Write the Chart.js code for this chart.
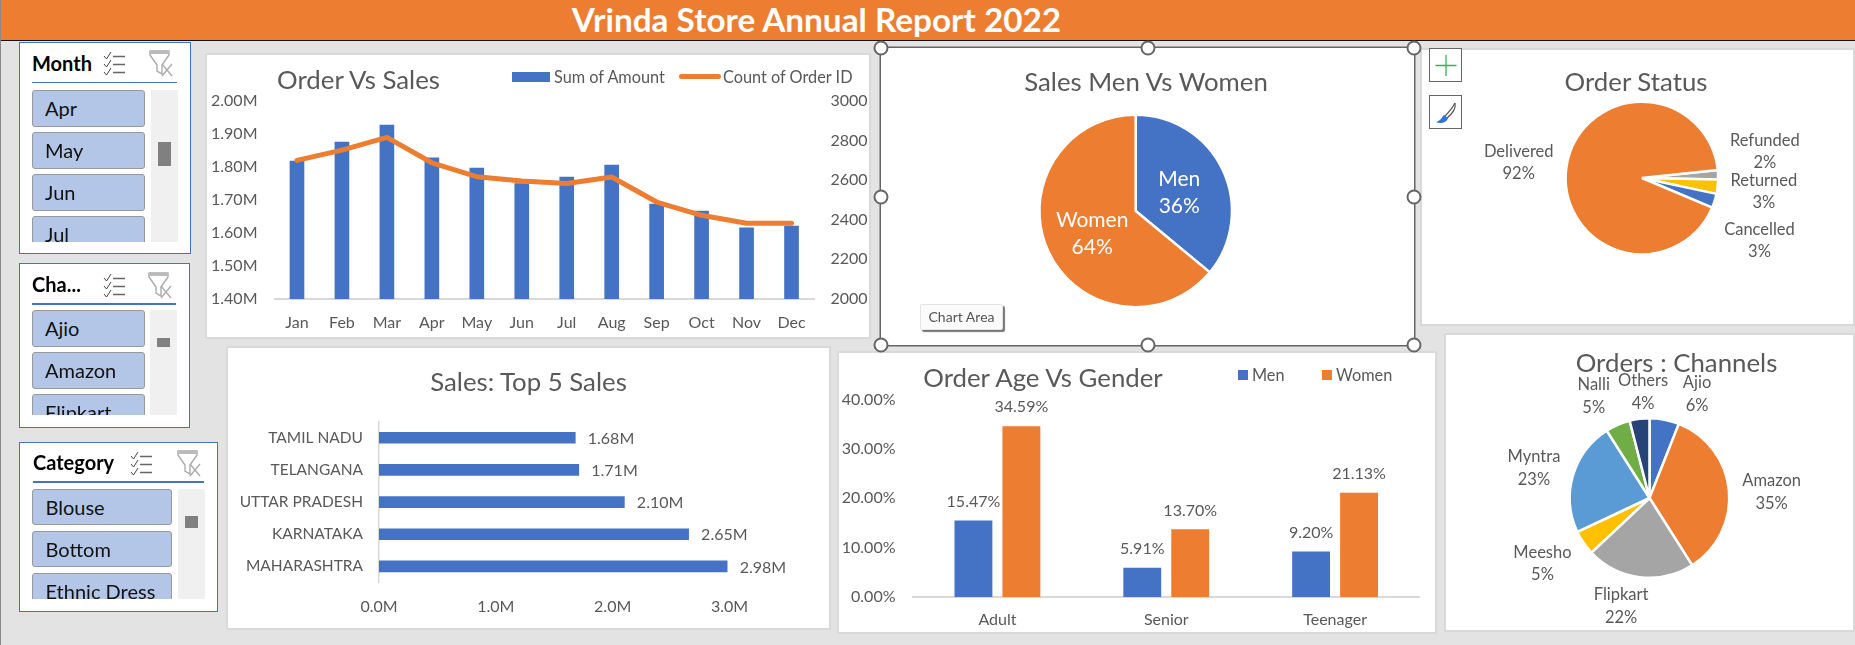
<!DOCTYPE html>
<html>
<head>
<meta charset="utf-8">
<title>Vrinda Store Annual Report 2022</title>
<script src="https://cdn.jsdelivr.net/npm/chart.js@4"></script>
<style>
html,body{margin:0;padding:0;width:1855px;height:645px;overflow:hidden;background:#e3e3e3;font-family:Lato,sans-serif}
.abs,.panel,.slicer,.chartTitle,.legendText{position:absolute}
#header{position:absolute;left:1px;top:0;width:1854px;height:40px;background:#ed7d31;border-bottom:1.7px solid #111;color:#fff;font-weight:700;font-size:33.3px;line-height:38px}
#header span{position:absolute;left:0;width:1631px;top:0;text-align:center}
#edge{position:absolute;left:0;top:0;width:1px;height:645px;background:#8a8a8a}
.panel{background:#fff;outline:2px solid #d9d9d9}
.panel canvas{position:absolute;left:0;top:0}
.chartTitle{color:#595959;font-size:25.8px;line-height:30px;white-space:nowrap;transform:translate(-50%,-55%)}
.legendText{color:#595959;font-size:16.3px;line-height:18px;white-space:nowrap;transform:translateY(-50%)}
.slicer{background:#fff;border:1.5px solid #4472c4;box-sizing:border-box}
.slicerTitle{position:absolute;font-weight:700;font-size:20px;line-height:24px;color:#000;white-space:nowrap}
.slicerRule{position:absolute;height:1.5px;background:#4472c4}
.slicerList{position:absolute;overflow:hidden}
.slicerBtn{position:absolute;left:0;box-sizing:border-box;background:#b4c6e7;border:1px solid #999;border-radius:3px;color:#111;font-size:20px;line-height:34px;padding-left:12.5px;white-space:nowrap}
.scrollTrack{position:absolute;background:#f0f0f0}
.scrollThumb{position:absolute;background:#808080}
.icon{position:absolute}
.handle{position:absolute;width:11px;height:11px;border:2px solid #666;border-radius:50%;background:#fff;transform:translate(-50%,-50%)}
.toolBtn{position:absolute;left:1428.5px;width:33.5px;height:34px;box-sizing:border-box;background:#fff;border:1px solid #666}
#tip{position:absolute;left:920px;top:304px;width:81px;height:24px;background:#fbfbfb;border:1px solid #e4e4e4;border-radius:2px;box-shadow:2px 2px 1px #777;color:#555;font-size:14px;line-height:24px;text-align:center}
</style>
</head>
<body>
<div id="edge"></div>
<div id="header"><span>Vrinda Store Annual Report 2022</span></div>

<div class="panel" style="left:206.5px;top:55px;width:662.5px;height:282px"><canvas id="salesChart" width="662" height="282"></canvas></div>
<div class="panel" style="left:227.5px;top:348px;width:601.5px;height:280px"><canvas id="topChart" width="601" height="280"></canvas></div>
<div class="panel" style="left:839px;top:353px;width:595.5px;height:279px"><canvas id="ageChart" width="595" height="279"></canvas></div>
<div class="panel" style="left:1421.5px;top:50px;width:431.5px;height:274px"><canvas id="statusChart" width="431" height="274"></canvas></div>
<div class="panel" style="left:1446px;top:335px;width:407px;height:295px"><canvas id="channelChart" width="407" height="295"></canvas></div>
<div class="panel" style="left:881px;top:48px;width:533px;height:297px;outline:none;box-shadow:0 0 0 1.5px #666"><canvas id="genderChart" width="533" height="297"></canvas></div>

<div class="chartTitle" style="left:358.5px;top:80px">Order Vs Sales</div>
<div class="chartTitle" style="left:528.5px;top:381.5px">Sales: Top 5 Sales</div>
<div class="chartTitle" style="left:1043px;top:377.5px">Order Age Vs Gender</div>
<div class="chartTitle" style="left:1146px;top:81.5px">Sales Men Vs Women</div>
<div class="chartTitle" style="left:1636px;top:82px">Order Status</div>
<div class="chartTitle" style="left:1676.5px;top:363px">Orders : Channels</div>

<div class="abs" style="left:512px;top:71.5px;width:38px;height:10.5px;background:#4472c4"></div>
<div class="legendText" style="left:554px;top:76.5px">Sum of Amount</div>
<div class="abs" style="left:679px;top:74px;width:42px;height:5px;border-radius:3px;background:#ed7d31"></div>
<div class="legendText" style="left:723px;top:76.5px">Count of Order ID</div>
<div class="abs" style="left:1238px;top:370px;width:10px;height:10px;background:#4472c4"></div>
<div class="legendText" style="left:1252px;top:375px">Men</div>
<div class="abs" style="left:1322px;top:370px;width:10px;height:10px;background:#ed7d31"></div>
<div class="legendText" style="left:1336px;top:375px">Women</div>

<div id="slicers"></div>
<div id="handles"></div>
<div class="toolBtn" style="top:47.5px"><svg width="32" height="32"><path d="M16 6V27M5.5 16.5H26.5" stroke="#3fae5a" stroke-width="1.3" fill="none"/></svg></div>
<div class="toolBtn" style="top:94.5px"><svg width="32" height="32"><path d="M25 7C23 11 19 16 15 20" stroke="#555" stroke-width="1.2" fill="none"/><path d="M25 7C26 12 22 18 17 22" stroke="#555" stroke-width="1.2" fill="none"/><path d="M14 19C12 20 12 24 6 26C10 28 17 27 18 22Z" fill="#2e75d6"/></svg></div>
<div id="tip">Chart Area</div>

<script>
// --- data ---
const months = ['Jan','Feb','Mar','Apr','May','Jun','Jul','Aug','Sep','Oct','Nov','Dec'];
const sumOfAmount = [1.817,1.875,1.926,1.827,1.796,1.749,1.769,1.805,1.687,1.666,1.615,1.621];
const countOfOrders = [2699,2751,2815,2687,2617,2595,2582,2615,2489,2422,2382,2382];

const states = ['TAMIL NADU','TELANGANA','UTTAR PRADESH','KARNATAKA','MAHARASHTRA'];
const stateSales = [1.68,1.71,2.10,2.65,2.98];

const ageGroups = ['Adult','Senior','Teenager'];
const menShare = [15.47,5.91,9.20];
const womenShare = [34.59,13.70,21.13];

const genders = ['Men','Women'];
const genderSales = [36,64];

const statuses = ['Refunded','Returned','Cancelled','Delivered'];
const statusShare = [2,3,3,92];

const channels = ['Ajio','Amazon','Flipkart','Meesho','Myntra','Nalli','Others'];
const channelShare = [6,35,22,5,23,5,4];

const blue = '#4472c4', orange = '#ed7d31', gray = '#a5a5a5', yellow = '#ffc000';
const textGray = '#595959', axisGray = '#d9d9d9';
const fontFamily = 'Lato, sans-serif';
const labelRing = 75; // distance from pie centre that label nudges start from

Chart.defaults.font.family = fontFamily;
Chart.defaults.font.size = 16;
Chart.defaults.color = textGray;
Chart.defaults.animation = false;
Chart.defaults.responsive = false;
Chart.defaults.plugins.legend.display = false;
Chart.defaults.plugins.tooltip.enabled = false;

// value labels next to the bars
const barLabels = {
    id: 'barLabels',
    afterDatasetsDraw(chart, args, opts) {
        if (!opts.format) return;
        const ctx = chart.ctx;
        ctx.save();
        ctx.font = '16px ' + fontFamily;
        ctx.fillStyle = textGray;
        chart.data.datasets.forEach((ds, i) => {
            chart.getDatasetMeta(i).data.forEach((bar, j) => {
                ctx.textAlign = opts.horizontal ? 'left' : 'center';
                ctx.textBaseline = 'middle';
                const text = opts.format(ds.data[j]);
                if (opts.horizontal) ctx.fillText(text, bar.x + 12.5, bar.y + 1);
                else ctx.fillText(text, bar.x, bar.y - 19);
            });
        });
        ctx.restore();
    }
};

// "name / percent" labels on the pies, placed from each slice
const pieLabels = {
    id: 'pieLabels',
    afterDatasetsDraw(chart, args, opts) {
        if (!opts.color) return;
        const ctx = chart.ctx;
        ctx.save();
        ctx.textAlign = 'center';
        ctx.textBaseline = 'middle';
        ctx.fillStyle = opts.color;
        ctx.font = opts.size + 'px ' + fontFamily;
        chart.getDatasetMeta(0).data.forEach((arc, i) => {
            let x, y;
            if (opts.inside) {
                const p = arc.getCenterPoint();
                x = p.x; y = p.y + 2.5;
            } else {
                const mid = (arc.startAngle + arc.endAngle) / 2;
                x = arc.x + Math.cos(mid) * labelRing + opts.nudge[i][0];
                y = arc.y + Math.sin(mid) * labelRing + opts.nudge[i][1];
            }
            ctx.fillText(chart.data.labels[i], x, y - opts.gap / 2);
            ctx.fillText(chart.data.datasets[0].data[i] + '%', x, y + opts.gap / 2);
        });
        ctx.restore();
    }
};
Chart.register(barLabels, pieLabels);

// --- Order Vs Sales ---
new Chart(document.getElementById('salesChart'), {
    data: {
        labels: months,
        datasets: [
            {type: 'line', data: countOfOrders, yAxisID: 'y2', borderColor: orange, borderWidth: 5,
                borderCapStyle: 'round', borderJoinStyle: 'round', pointRadius: 0, tension: 0, order: 1},
            {type: 'bar', data: sumOfAmount, yAxisID: 'y', backgroundColor: blue, barThickness: 14, order: 2}
        ]
    },
    options: {
        layout: {padding: {top: 45.7}},
        scales: {
            x: {
                grid: {display: false, drawTicks: false},
                border: {color: axisGray, width: 2},
                ticks: {padding: 14},
                afterFit: s => { s.height = 38; }
            },
            y: {
                min: 1.4, max: 2.0,
                grid: {display: false, drawTicks: false},
                border: {display: false},
                ticks: {stepSize: 0.1, padding: 17, callback: v => v.toFixed(2) + 'M'},
                afterFit: s => { s.width = 67.5; }
            },
            y2: {
                position: 'right', min: 2000, max: 3000,
                grid: {display: false, drawTicks: false},
                border: {display: false},
                ticks: {stepSize: 200, padding: 16.5, callback: v => String(v)},
                afterFit: s => { s.width = 55; }
            }
        }
    }
});

// --- Top 5 states ---
new Chart(document.getElementById('topChart'), {
    type: 'bar',
    data: {labels: states, datasets: [{data: stateSales, backgroundColor: blue, barThickness: 11}]},
    options: {
        indexAxis: 'y',
        layout: {padding: {top: 73.7, right: 99.5}},
        plugins: {barLabels: {horizontal: true, format: v => v.toFixed(2) + 'M'}},
        scales: {
            x: {
                min: 0, max: 3,
                grid: {display: false, drawTicks: false},
                border: {display: false},
                ticks: {stepSize: 1, padding: 15, callback: v => v.toFixed(1) + 'M'},
                afterFit: s => { s.height = 45.5; }
            },
            y: {
                grid: {display: false, drawTicks: false},
                border: {color: axisGray, width: 1.5},
                ticks: {padding: 16, font: {size: 15.5}},
                afterFit: s => { s.width = 151; }
            }
        }
    }
});

// --- Order Age Vs Gender ---
new Chart(document.getElementById('ageChart'), {
    type: 'bar',
    data: {
        labels: ageGroups,
        datasets: [
            {data: menShare, backgroundColor: blue},
            {data: womenShare, backgroundColor: orange}
        ]
    },
    options: {
        layout: {padding: {top: 46.5, right: 14.5}},
        datasets: {bar: {categoryPercentage: 0.568, barPercentage: 0.79}},
        plugins: {barLabels: {format: v => v.toFixed(2) + '%'}},
        scales: {
            x: {
                grid: {display: false, drawTicks: false},
                border: {color: axisGray, width: 2},
                ticks: {padding: 13},
                afterFit: s => { s.height = 35; }
            },
            y: {
                min: 0, max: 40,
                grid: {display: false, drawTicks: false},
                border: {display: false},
                ticks: {stepSize: 10, padding: 17.5, callback: v => v.toFixed(2) + '%'},
                afterFit: s => { s.width = 74; }
            }
        }
    }
});

// pies: chart area padded so the circle lands where it should
function makePie(id, labels, values, colors, rotation, box, labelOpts) {
    const canvas = document.getElementById(id);
    new Chart(canvas, {
        type: 'pie',
        data: {labels: labels, datasets: [{data: values, backgroundColor: colors, borderColor: '#fff', borderWidth: 2.5}]},
        options: {
            rotation: rotation,
            layout: {padding: {
                left: box.cx - box.r,
                top: box.cy - box.r,
                right: canvas.width - box.cx - box.r,
                bottom: canvas.height - box.cy - box.r
            }},
            plugins: {pieLabels: labelOpts}
        }
    });
}

makePie('genderChart', genders, genderSales, [blue, orange], 0,
    {cx: 254.7, cy: 163, r: 97.5},
    {color: '#fff', size: 21, gap: 27, inside: true});

makePie('statusChart', statuses, statusShare, [gray, yellow, blue, orange], 84,
    {cx: 219.9, cy: 128, r: 77.5},
    {color: textGray, size: 16.5, gap: 22.5,
     nudge: [[48,-23],[47.5,5],[46,40],[-49,-4.5]]});

makePie('channelChart', channels, channelShare, [blue, orange, gray, yellow, '#5b9bd5', '#70ad47', '#264478'], 0,
    {cx: 203.5, cy: 163, r: 81},
    {color: textGray, size: 16.5, gap: 22.5,
     nudge: [[33.5,-30],[47.5,1.3],[-19,34],[-45,23.5],[-43.5,-9],[-26,-33],[3,-31.5]]});

// --- slicers on the left ---
const slicerMonths = ['Apr','May','Jun','Jul'];
const slicerChannels = ['Ajio','Amazon','Flipkart'];
const slicerCategories = ['Blouse','Bottom','Ethnic Dress'];

const checkIcon = '<path d="M1 5l2.5 3L8 1M1 13l2.5 3L8 9M1 21l2.5 3L8 17" stroke="#444" fill="none"/><path d="M10 5.5H22M10 13.5H22M10 21.5H22" stroke="#666" stroke-width="1.3"/>';
const filterIcon = '<path d="M1 1H20V5L13 15V24L8 21V15L1 5Z" stroke="#aaa" fill="#fff" stroke-width="1.4"/><path d="M1 1H20V4H1Z" fill="#bbb"/><path d="M13 14L23 26M23 14L13 26" stroke="#aaa" stroke-width="1.3"/>';

function makeSlicer(s) {
    const host = document.getElementById('slicers');
    let html = '<div class="slicer" style="left:' + s.x + 'px;top:' + s.y + 'px;width:' + s.w + 'px;height:' + s.h + 'px"></div>';
    html += '<div class="slicerTitle" style="left:' + s.titleX + 'px;top:' + (s.ruleY - 31) + 'px">' + s.title + '</div>';
    html += '<svg class="icon" width="24" height="26" style="left:' + s.checkX + 'px;top:' + (s.ruleY - 30.5) + 'px">' + checkIcon + '</svg>';
    html += '<svg class="icon" width="24" height="28" style="left:' + s.filterX + 'px;top:' + (s.ruleY - 31.5) + 'px">' + filterIcon + '</svg>';
    html += '<div class="slicerRule" style="left:' + s.titleX + 'px;top:' + s.ruleY + 'px;width:' + s.ruleW + 'px"></div>';
    html += '<div class="slicerList" style="left:' + s.listX + 'px;top:' + s.listY + 'px;width:' + s.btnW + 'px;height:' + s.listH + 'px">';
    s.items.forEach((item, i) => {
        html += '<div class="slicerBtn" style="top:' + (i * 42) + 'px;width:' + s.btnW + 'px;height:36.5px">' + item + '</div>';
    });
    html += '</div>';
    html += '<div class="scrollTrack" style="left:' + s.trackX + 'px;top:' + s.listY + 'px;width:' + s.trackW + 'px;height:' + s.listH + 'px"></div>';
    html += '<div class="scrollThumb" style="left:' + (s.trackX + 7) + 'px;top:' + s.thumbY + 'px;width:13px;height:' + s.thumbH + 'px"></div>';
    host.insertAdjacentHTML('beforeend', html);
}

makeSlicer({x: 18.5, y: 42, w: 172.5, h: 212, title: 'Month', titleX: 32, ruleY: 81.5, ruleW: 145,
    checkX: 103, filterX: 149, listX: 31.5, listY: 90, btnW: 113.5, listH: 152, items: slicerMonths,
    trackX: 151, trackW: 27, thumbY: 142, thumbH: 24});
makeSlicer({x: 18.5, y: 263, w: 171.5, h: 164.5, title: 'Cha...', titleX: 32, ruleY: 303, ruleW: 144,
    checkX: 103, filterX: 148, listX: 31.5, listY: 310, btnW: 113.5, listH: 105, items: slicerChannels,
    trackX: 150, trackW: 27, thumbY: 338, thumbH: 9});
makeSlicer({x: 19, y: 441.5, w: 198.5, h: 170, title: 'Category', titleX: 33, ruleY: 481, ruleW: 171,
    checkX: 130, filterX: 177, listX: 32, listY: 488.5, btnW: 139.5, listH: 110.5, items: slicerCategories,
    trackX: 178, trackW: 27, thumbY: 516, thumbH: 12});

// selection handles round the active chart
const handleXs = [881, 1147.5, 1414];
const handleYs = [48, 196.5, 345];
const handleHost = document.getElementById('handles');
handleYs.forEach((y, r) => handleXs.forEach((x, c) => {
    if (r === 1 && c === 1) return;
    handleHost.insertAdjacentHTML('beforeend', '<div class="handle" style="left:' + x + 'px;top:' + y + 'px"></div>');
}));
</script>
</body>
</html>
